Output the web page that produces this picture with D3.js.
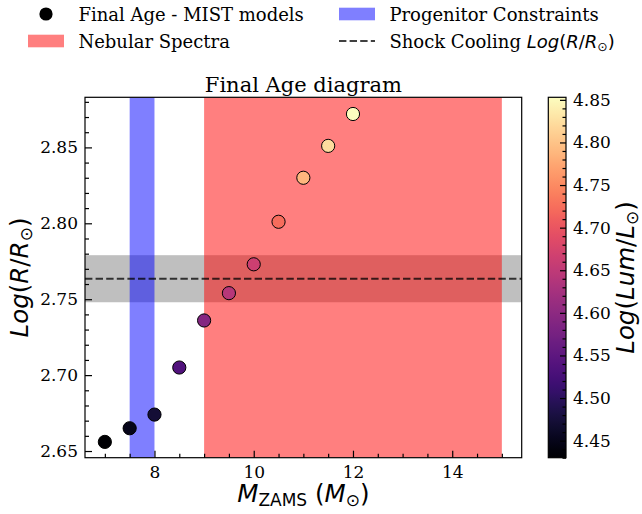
<!DOCTYPE html>
<html>
<head>
<meta charset="utf-8">
<script src="https://cdn.jsdelivr.net/npm/d3@7"></script>
<style>
  html, body { margin: 0; padding: 0; background: #fff; }
  svg { display: block; }
</style>
</head>
<body>
<script>
// MIST model end states: initial mass, final radius and luminosity
const massZAMS = [7, 7.5, 8, 8.5, 9, 9.5, 10, 10.5, 11, 11.5, 12];
const logRadius = [2.656, 2.665, 2.674, 2.705, 2.736, 2.754, 2.773, 2.801, 2.830, 2.851, 2.872];
const logLum = [4.430, 4.451, 4.472, 4.536, 4.591, 4.642, 4.663, 4.723, 4.790, 4.823, 4.853];

// Constraint bands
const progenitorRange = [7.5, 8.0];
const nebularRange = [9.0, 15.0];
const shockCoolingLogR = 2.7635;
const shockCoolingErr = 0.0155;

const xTicks = [8, 10, 12, 14];
const yTicks = [2.65, 2.70, 2.75, 2.80, 2.85];
const cTicks = [4.45, 4.50, 4.55, 4.60, 4.65, 4.70, 4.75, 4.80, 4.85];

const SERIF = "'DejaVu Serif', 'Liberation Serif', serif";
const SANS = "'DejaVu Sans', sans-serif";

const W = 642, H = 514;
const plot = { left: 85, right: 521.7, top: 97.3, bottom: 457.7 };
const cbar = { left: 548.3, right: 566 };

const svg = d3.select("body").append("svg").attr("width", W).attr("height", H);
svg.append("rect").attr("width", W).attr("height", H).attr("fill", "#fff");

const x = d3.scaleLinear().domain([6.6, 15.4]).range([plot.left, plot.right]);
const y = d3.scaleLinear().domain([2.6456, 2.883]).range([plot.bottom, plot.top]);
const cScale = d3.scaleLinear().domain([4.43, 4.853]).range([plot.bottom, plot.top]);
const color = d3.scaleSequential(d3.interpolateMagma).domain([4.43, 4.853]);

svg.append("clipPath").attr("id", "clip").append("rect")
  .attr("x", plot.left).attr("y", plot.top)
  .attr("width", plot.right - plot.left).attr("height", plot.bottom - plot.top);

const g = svg.append("g").attr("clip-path", "url(#clip)");

// shock cooling uncertainty band
g.append("rect")
  .attr("x", plot.left).attr("width", plot.right - plot.left)
  .attr("y", y(shockCoolingLogR + shockCoolingErr))
  .attr("height", y(shockCoolingLogR - shockCoolingErr) - y(shockCoolingLogR + shockCoolingErr))
  .attr("fill", "rgba(0,0,0,0.25)");

// progenitor constraints
g.append("rect")
  .attr("x", x(progenitorRange[0])).attr("width", x(progenitorRange[1]) - x(progenitorRange[0]))
  .attr("y", plot.top).attr("height", plot.bottom - plot.top)
  .attr("fill", "rgba(0,0,255,0.5)");

// nebular spectra
g.append("rect")
  .attr("x", x(nebularRange[0])).attr("width", x(nebularRange[1]) - x(nebularRange[0]))
  .attr("y", plot.top).attr("height", plot.bottom - plot.top)
  .attr("fill", "rgba(255,0,0,0.5)");

// shock cooling radius
g.append("line")
  .attr("x1", plot.left).attr("x2", plot.right)
  .attr("y1", y(shockCoolingLogR)).attr("y2", y(shockCoolingLogR))
  .attr("stroke", "rgba(0,0,0,0.75)").attr("stroke-width", 2)
  .attr("stroke-dasharray", "7.4,3.2");

// model points
g.selectAll("circle.pt").data(massZAMS.map((m, i) => ({ m, r: logRadius[i], l: logLum[i] })))
  .enter().append("circle").attr("class", "pt")
  .attr("cx", d => x(d.m)).attr("cy", d => y(d.r)).attr("r", 6.6)
  .attr("fill", d => color(d.l)).attr("stroke", "#000").attr("stroke-width", 1);

// axes
const tickFont = "17px";
const xAxis = d3.axisBottom(x).tickValues(xTicks).tickFormat(d3.format("d"))
  .tickSizeInner(-7).tickSizeOuter(0).tickPadding(8);
const xMinor = d3.axisBottom(x).tickValues(d3.range(7, 15.01, 0.5).filter(v => !xTicks.includes(v)))
  .tickFormat("").tickSizeInner(-4).tickSizeOuter(0);
const gx = svg.append("g").attr("transform", `translate(0,${plot.bottom})`).call(xAxis);
svg.append("g").attr("transform", `translate(0,${plot.bottom})`).call(xMinor).select(".domain").remove();

const yAxis = d3.axisLeft(y).tickValues(yTicks).tickFormat(d3.format(".2f"))
  .tickSizeInner(-7).tickSizeOuter(0).tickPadding(7);
const yMinorVals = d3.range(2.65, 2.8801, 0.01).map(v => +v.toFixed(2)).filter(v => !yTicks.includes(v));
const yMinor = d3.axisLeft(y).tickValues(yMinorVals).tickFormat("").tickSizeInner(-4).tickSizeOuter(0);
const gy = svg.append("g").attr("transform", `translate(${plot.left},0)`).call(yAxis);
svg.append("g").attr("transform", `translate(${plot.left},0)`).call(yMinor).select(".domain").remove();

[gx, gy].forEach(a => {
  a.select(".domain").remove();
  a.attr("font-family", null).attr("font-size", null);
  a.selectAll("text").style("font-family", SERIF).style("font-size", tickFont).attr("fill", "#000");
});

// frame
svg.append("rect")
  .attr("x", plot.left).attr("y", plot.top)
  .attr("width", plot.right - plot.left).attr("height", plot.bottom - plot.top)
  .attr("fill", "none").attr("stroke", "#000").attr("stroke-width", 1.2);

// title
svg.append("text")
  .attr("x", (plot.left + plot.right) / 2).attr("y", 92)
  .attr("text-anchor", "middle")
  .style("font-family", SERIF).style("font-size", "21px").text("Final Age diagram");

// x label
const labFont = "24.5px", subFont = "17px";
const xl = svg.append("text")
  .attr("x", (plot.left + plot.right) / 2).attr("y", 502)
  .attr("text-anchor", "middle").style("font-family", SANS).style("font-size", labFont);
xl.append("tspan").attr("font-style", "italic").text("M");
xl.append("tspan").style("font-size", subFont).attr("dy", 4).text("ZAMS");
xl.append("tspan").attr("dy", -4).text(" (");
xl.append("tspan").attr("font-style", "italic").text("M");
xl.append("tspan").style("font-size", subFont).attr("dy", 4).text("\u2299");
xl.append("tspan").attr("dy", -4).text(")");

// y label
const yl = svg.append("text")
  .attr("transform", `translate(28,${(plot.top + plot.bottom) / 2}) rotate(-90)`)
  .attr("text-anchor", "middle").style("font-family", SANS).style("font-size", labFont);
yl.append("tspan").attr("font-style", "italic").text("Log");
yl.append("tspan").text("(");
yl.append("tspan").attr("font-style", "italic").text("R");
yl.append("tspan").text("/");
yl.append("tspan").attr("font-style", "italic").text("R");
yl.append("tspan").style("font-size", subFont).attr("dy", 4).text("\u2299");
yl.append("tspan").attr("dy", -4).text(")");

// colorbar
const defs = svg.append("defs");
const grad = defs.append("linearGradient").attr("id", "magma")
  .attr("x1", 0).attr("y1", 1).attr("x2", 0).attr("y2", 0);
d3.range(0, 1.0001, 0.02).forEach(t => {
  grad.append("stop").attr("offset", t).attr("stop-color", d3.interpolateMagma(t));
});
svg.append("rect")
  .attr("x", cbar.left).attr("y", plot.top)
  .attr("width", cbar.right - cbar.left).attr("height", plot.bottom - plot.top)
  .attr("fill", "url(#magma)");

const cAxis = d3.axisRight(cScale).tickValues(cTicks).tickFormat(d3.format(".2f"))
  .tickSizeInner(-6).tickSizeOuter(0).tickPadding(7);
const cMinorVals = d3.range(4.43, 4.8531, 0.01).map(v => +v.toFixed(2)).filter(v => !cTicks.includes(v));
const cMinor = d3.axisRight(cScale).tickValues(cMinorVals).tickFormat("").tickSizeInner(-3.5).tickSizeOuter(0);
const gc = svg.append("g").attr("transform", `translate(${cbar.right},0)`).call(cAxis);
svg.append("g").attr("transform", `translate(${cbar.right},0)`).call(cMinor).select(".domain").remove();
gc.select(".domain").remove();
gc.attr("font-family", null).attr("font-size", null);
gc.selectAll("text").style("font-family", SERIF).style("font-size", tickFont).attr("fill", "#000");
svg.selectAll(".tick line").attr("stroke", "#000").attr("stroke-width", 1.2);
svg.append("rect")
  .attr("x", cbar.left).attr("y", plot.top)
  .attr("width", cbar.right - cbar.left).attr("height", plot.bottom - plot.top)
  .attr("fill", "none").attr("stroke", "#000").attr("stroke-width", 1.2);

const cl = svg.append("text")
  .attr("transform", `translate(634,${(plot.top + plot.bottom) / 2}) rotate(-90)`)
  .attr("text-anchor", "middle").style("font-family", SANS).style("font-size", labFont);
cl.append("tspan").attr("font-style", "italic").text("Log");
cl.append("tspan").text("(");
cl.append("tspan").attr("font-style", "italic").text("Lum");
cl.append("tspan").text("/");
cl.append("tspan").attr("font-style", "italic").text("L");
cl.append("tspan").style("font-size", subFont).attr("dy", 4).text("\u2299");
cl.append("tspan").attr("dy", -4).text(")");

// legend (two columns above the axes)
const leg = svg.append("g");
const legFont = "18px";
const row1 = 14, row2 = 41;
const col1 = 28, col2 = 339, handleW = 36, handleH = 12.6, textGap = 14.4;
const base = 6.5;

leg.append("circle").attr("cx", col1 + handleW / 2).attr("cy", row1).attr("r", 6.6).attr("fill", "#000");
leg.append("text").attr("x", col1 + handleW + textGap).attr("y", row1 + base)
  .style("font-family", SERIF).style("font-size", legFont).text("Final Age - MIST models");

leg.append("rect").attr("x", col1).attr("y", row2 - handleH / 2).attr("width", handleW).attr("height", handleH)
  .attr("fill", "rgba(255,0,0,0.5)");
leg.append("text").attr("x", col1 + handleW + textGap).attr("y", row2 + base)
  .style("font-family", SERIF).style("font-size", legFont).text("Nebular Spectra");

leg.append("rect").attr("x", col2).attr("y", row1 - handleH / 2).attr("width", handleW).attr("height", handleH)
  .attr("fill", "rgba(0,0,255,0.5)");
leg.append("text").attr("x", col2 + handleW + textGap).attr("y", row1 + base)
  .style("font-family", SERIF).style("font-size", legFont).text("Progenitor Constraints");

leg.append("line").attr("x1", col2).attr("x2", col2 + handleW).attr("y1", row2).attr("y2", row2)
  .attr("stroke", "rgba(0,0,0,0.75)").attr("stroke-width", 2).attr("stroke-dasharray", "7.4,3.2");
const sc = leg.append("text").attr("x", col2 + handleW + textGap).attr("y", row2 + base).style("font-size", legFont);
sc.append("tspan").style("font-family", SERIF).text("Shock Cooling ");
sc.append("tspan").style("font-family", SANS).attr("font-style", "italic").text("Log");
sc.append("tspan").style("font-family", SANS).text("(");
sc.append("tspan").style("font-family", SANS).attr("font-style", "italic").text("R");
sc.append("tspan").style("font-family", SANS).text("/");
sc.append("tspan").style("font-family", SANS).attr("font-style", "italic").text("R");
sc.append("tspan").style("font-family", SANS).style("font-size", "12.6px").attr("dy", 3).text("\u2299");
sc.append("tspan").style("font-family", SANS).attr("dy", -3).text(")");
</script>
</body>
</html>
